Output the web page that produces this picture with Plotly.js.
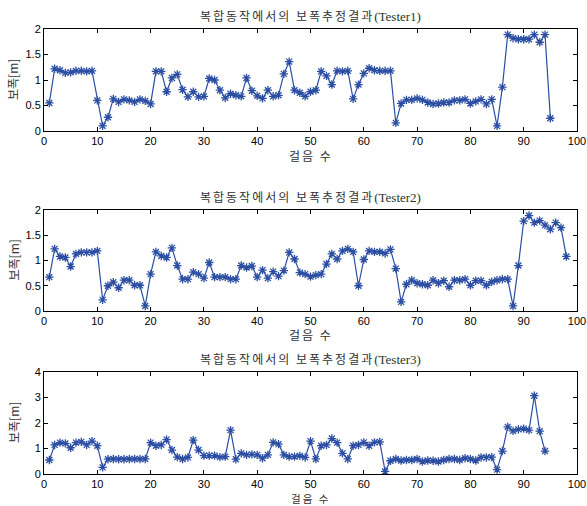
<!DOCTYPE html>
<html><head><meta charset="utf-8">
<script src="https://cdn.plot.ly/plotly-3.0.1.min.js"></script>
<style>body{margin:0;background:#fff}#chart{width:587px;height:506px}</style>
</head><body><div id="chart"></div>
<script>
const tester1 = [0.55,1.22,1.19,1.14,1.15,1.18,1.18,1.17,1.18,0.60,
0.10,0.27,0.63,0.57,0.62,0.60,0.57,0.62,0.59,0.53,
1.17,1.17,0.77,1.04,1.11,0.81,0.67,0.77,0.67,0.68,
1.03,1.00,0.80,0.65,0.73,0.70,0.68,1.04,0.79,0.69,
0.64,0.80,0.68,0.70,1.12,1.36,0.80,0.75,0.68,0.77,
0.80,1.17,1.08,0.91,1.18,1.17,1.18,0.63,0.91,1.13,
1.23,1.19,1.18,1.18,1.18,0.16,0.54,0.61,0.61,0.64,
0.61,0.56,0.53,0.54,0.56,0.56,0.60,0.60,0.62,0.54,
0.58,0.62,0.53,0.62,0.10,0.86,1.89,1.82,1.80,1.80,
1.80,1.89,1.74,1.89,0.25];
const tester2 = [0.67,1.23,1.08,1.06,0.88,1.13,1.16,1.16,1.16,1.19,
0.22,0.50,0.57,0.46,0.61,0.61,0.51,0.51,0.10,0.73,
1.17,1.09,1.06,1.25,0.90,0.63,0.63,0.77,0.73,0.65,
0.96,0.67,0.67,0.67,0.63,0.63,0.90,0.86,0.89,0.67,
0.81,0.65,0.78,0.69,0.80,1.16,1.03,0.76,0.73,0.68,
0.71,0.73,0.93,1.13,1.03,1.19,1.23,1.17,0.50,1.02,
1.19,1.17,1.17,1.14,1.22,0.84,0.18,0.53,0.61,0.55,
0.53,0.51,0.61,0.55,0.60,0.48,0.61,0.61,0.63,0.51,
0.60,0.60,0.51,0.58,0.61,0.63,0.63,0.10,0.90,1.78,
1.89,1.75,1.79,1.70,1.62,1.75,1.65,1.08];
const tester3 = [0.55,1.14,1.23,1.20,1.03,1.23,1.26,1.14,1.29,1.11,
0.26,0.58,0.59,0.58,0.58,0.59,0.59,0.59,0.59,1.23,
1.11,1.14,1.35,0.94,0.66,0.59,0.65,1.33,0.94,0.72,
0.72,0.72,0.66,0.68,1.72,0.58,0.81,0.75,0.77,0.75,
0.62,0.75,1.24,1.17,0.75,0.68,0.68,0.71,0.65,1.29,
0.59,1.11,1.14,1.39,1.23,0.81,0.59,1.11,1.14,1.24,
1.11,1.24,1.26,0.10,0.52,0.59,0.53,0.55,0.55,0.59,
0.49,0.53,0.52,0.49,0.55,0.59,0.59,0.55,0.62,0.59,
0.53,0.65,0.65,0.66,0.17,0.90,1.85,1.69,1.75,1.78,
1.72,3.07,1.68,0.90];
const seriesList = [tester1, tester2, tester3];
const testerNames = ['Tester1','Tester2','Tester3'];
const titleKo = '복합동작에서의 보폭추정결과';
const xLabel = '걸음 수';
const yLabel = '보폭[m]';
const xTicks = [0,10,20,30,40,50,60,70,80,90,100];
const yTicksList = [[0,0.5,1,1.5,2],[0,0.5,1,1.5,2],[0,1,2,3,4]];
const yTickText = [['0','0.5','1','1.5','2'],['0','0.5','1','1.5','2'],['0','1','2','3','4']];
const yRanges = [[0,2],[0,2],[0,4]];

const W=587,H=506;
const boxes = [[29,131],[210,311],[372,474]];
const xd = [44/W, 577/W];
const col = '#2b4ea3';
const traces = [], annotations = [];
const layout = {width:W,height:H,margin:{l:0,r:0,t:0,b:0},showlegend:false,
  paper_bgcolor:'#fff',plot_bgcolor:'#fff',font:{family:'Liberation Sans, Arial',size:11,color:'#000'}};
const xLabY = [155, 334, 498];
const xLabSize = [12, 12, 10.5];
seriesList.forEach((s,i)=>{
  const n=i+1, sfx = n===1?'':n;
  traces.push({x:s.map((_,k)=>k+1),y:s,type:'scatter',mode:'lines+markers',
    xaxis:'x'+sfx,yaxis:'y'+sfx,
    line:{color:col,width:1.2},
    marker:{symbol:'asterisk-open',size:7,color:col,line:{color:col,width:1.3}}});
  const [top,bot]=boxes[i];
  const axCommon = {showgrid:false,zeroline:false,showline:true,linecolor:'#000',linewidth:1,
    mirror:'ticks',ticks:'inside',ticklen:4,tickcolor:'#000',tickwidth:1,
    tickfont:{family:'Liberation Sans, Arial',size:11,color:'#000'}};
  layout['xaxis'+sfx] = Object.assign({},axCommon,{domain:xd,range:[0,100],tickvals:xTicks,
    ticktext:xTicks.map(String),anchor:'y'+sfx});
  layout['yaxis'+sfx] = Object.assign({},axCommon,{domain:[1-bot/H,1-top/H],range:yRanges[i],
    tickvals:yTicksList[i],ticktext:yTickText[i],anchor:'x'+sfx});
  annotations.push({xref:'paper',yref:'paper',x:(xd[0]+xd[1])/2,y:1-(top-14)/H,yanchor:'middle',xanchor:'center',
    showarrow:false,
    text:'<span style="letter-spacing:2px">'+titleKo+'</span><span style="font-family:Liberation Serif, Times New Roman;color:#1f3a1f;font-size:13px">('+testerNames[i]+')</span>',
    font:{family:'Noto Sans CJK KR',size:12,color:'#333'}});
  annotations.push({xref:'paper',yref:'paper',x:(xd[0]+xd[1])/2,y:1-xLabY[i]/H,yanchor:'middle',xanchor:'center',
    showarrow:false,borderpad:0,text:'<span style="letter-spacing:2px">'+xLabel+'</span>',font:{family:'Noto Sans CJK KR',size:xLabSize[i],color:'#333'}});
  annotations.push({xref:'paper',yref:'paper',x:13/W,y:1-((top+bot)/2)/H,yanchor:'middle',xanchor:'center',
    showarrow:false,textangle:-90,text:yLabel,font:{family:'Noto Sans CJK KR',size:12,color:'#333'}});
});
layout.annotations = annotations;
Plotly.newPlot('chart',traces,layout,{displayModeBar:false,staticPlot:true});
</script></body></html>
